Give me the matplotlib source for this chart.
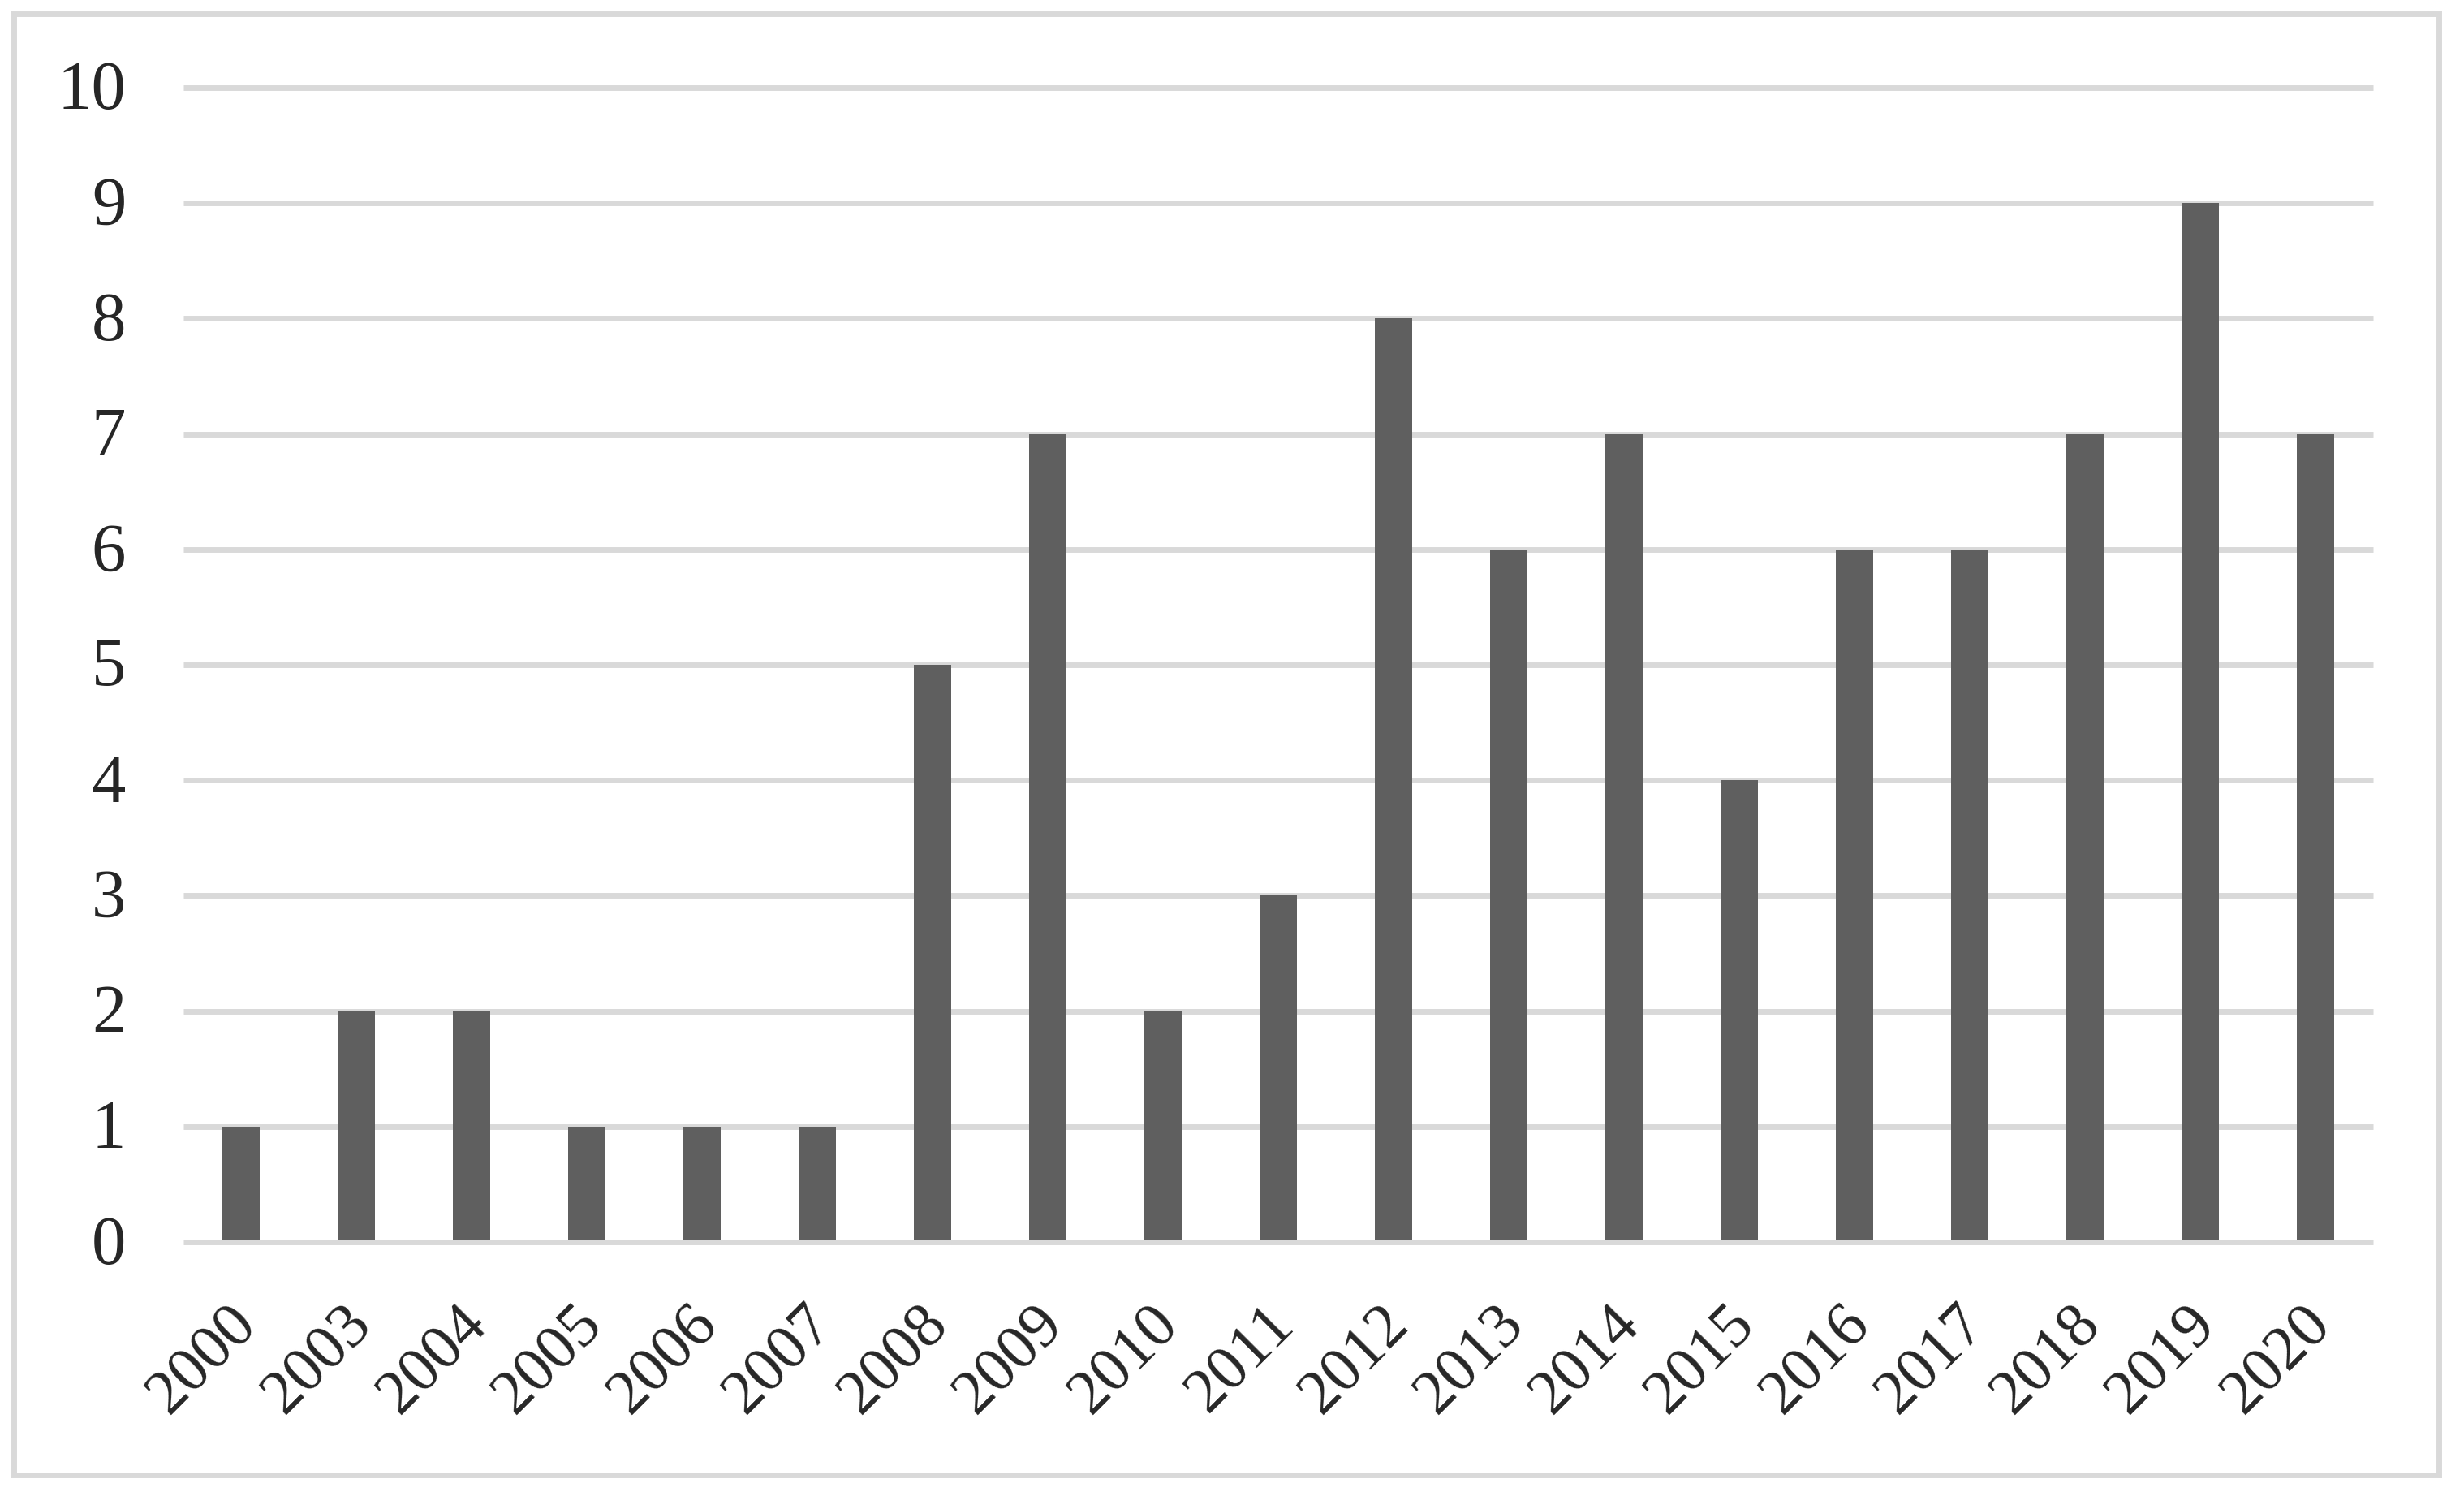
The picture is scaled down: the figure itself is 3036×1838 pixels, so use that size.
import matplotlib
matplotlib.use("Agg")
import matplotlib.pyplot as plt
from matplotlib.patches import Rectangle
import matplotlib.transforms as mtransforms

years = ["2000", "2003", "2004", "2005", "2006", "2007", "2008", "2009", "2010",
         "2011", "2012", "2013", "2014", "2015", "2016", "2017", "2018", "2019", "2020"]
counts = [1, 2, 2, 1, 1, 1, 5, 7, 2, 3, 8, 6, 7, 4, 6, 6, 7, 9, 7]
yticks = [0, 1, 2, 3, 4, 5, 6, 7, 8, 9, 10]

BAR = "#5f5f5f"
GRID = "#d9d9d9"
TXT = "#262626"
FONT = "Liberation Serif"

W, H = 3036, 1838
fig = plt.figure(figsize=(W / 100, H / 100), dpi=100)
fig.patch.set_facecolor("white")

ax = fig.add_axes([226 / W, 1 - 1530 / H, (2924 - 226) / W, (1530 - 108) / H])
ax.set_facecolor("none")

x = list(range(len(years)))
ax.bar(x, counts, width=0.325, color=BAR, zorder=2)

for t in yticks:
    ax.axhline(t, color=GRID, lw=5, zorder=1 if t > 0 else 3, clip_on=False,
               solid_capstyle="butt")

ax.set_xlim(-0.5, len(years) - 0.5)
ax.set_ylim(0, 10)
for s in ax.spines.values():
    s.set_visible(False)

ax.set_yticks(yticks)
ylabs = ax.set_yticklabels([str(t) for t in yticks], fontsize=61, family=FONT, color=TXT)
ax.tick_params(axis="y", length=0, pad=51)
yoff = mtransforms.ScaledTranslation(0, 3 / 100, fig.dpi_scale_trans)
for lab in ylabs:
    lab.set_transform(lab.get_transform() + yoff)

ax.set_xticks(x)
labels = ax.set_xticklabels(years, fontsize=56, family=FONT, color=TXT,
                            rotation=45, ha="right", va="center",
                            rotation_mode="anchor")
ax.tick_params(axis="x", length=0, pad=65)
xoff = mtransforms.ScaledTranslation(8 / 100, 0, fig.dpi_scale_trans)
for lab in labels:
    lab.set_transform(lab.get_transform() + xoff)

# outer chart border
fig.patches.append(Rectangle((16.5 / W, 1 - 1817 / H), (3004.5 - 16.5) / W, (1817 - 16.5) / H,
                             transform=fig.transFigure, fill=False,
                             edgecolor=GRID, lw=5, zorder=0))

fig.savefig("out.png", dpi=100, facecolor="white")
